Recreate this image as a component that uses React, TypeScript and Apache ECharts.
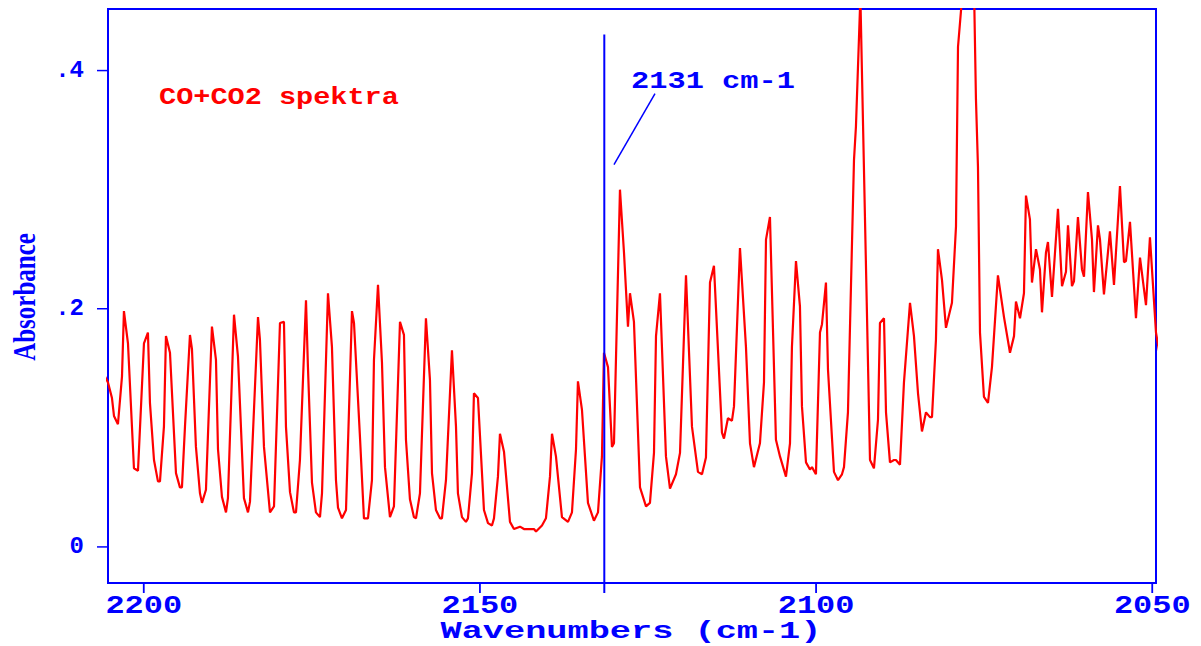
import React, { useEffect, useRef } from "react";
import * as echarts from "echarts";

// Spectrum (wavenumber in cm-1, absorbance)
const WAVENUMBERS = [
  2205.92, 2205.32, 2204.73, 2204.43, 2203.84, 2203.24, 2202.95, 2202.35, 2201.46, 2200.86,
  2199.97, 2199.38, 2199.08, 2198.48, 2197.89, 2197.59, 2197.0, 2196.7, 2196.1, 2195.21,
  2194.62, 2194.32, 2193.87, 2193.13, 2192.83, 2192.24, 2191.64, 2191.34, 2190.75, 2189.86,
  2189.26, 2188.96, 2188.37, 2187.77, 2187.48, 2186.58, 2185.99, 2185.1, 2184.5, 2184.2,
  2183.01, 2182.72, 2182.12, 2181.23, 2180.63, 2179.74, 2179.15, 2178.85, 2178.25, 2177.66,
  2177.36, 2176.77, 2175.87, 2175.58, 2174.98, 2174.39, 2173.79, 2173.49, 2172.6, 2172.01,
  2171.41, 2171.11, 2170.52, 2169.92, 2169.03, 2168.73, 2167.84, 2167.25, 2166.65, 2166.06,
  2165.76, 2165.16, 2164.57, 2164.12, 2163.38, 2162.79, 2161.89, 2161.3, 2161.0, 2160.41,
  2159.81, 2159.51, 2158.92, 2158.03, 2157.43, 2157.13, 2156.54, 2155.94, 2155.65, 2155.05,
  2154.16, 2153.56, 2153.27, 2152.67, 2152.08, 2151.78, 2151.18, 2150.89, 2150.29, 2149.4,
  2148.8, 2148.21, 2147.91, 2147.32, 2147.02, 2146.42, 2145.53, 2144.94, 2144.04, 2143.45,
  2141.96, 2141.66, 2140.77, 2140.18, 2139.58, 2139.28, 2138.69, 2137.8, 2136.9, 2136.31,
  2135.71, 2135.42, 2134.82, 2133.93, 2133.04, 2132.44, 2131.85, 2131.55, 2130.95, 2130.36,
  2130.06, 2129.17, 2128.57, 2127.98, 2127.68, 2127.09, 2126.19, 2125.3, 2124.71, 2124.11,
  2123.81, 2123.22, 2122.33, 2121.73, 2120.84, 2120.24, 2119.35, 2118.46, 2117.57, 2116.97,
  2116.38, 2115.78, 2115.19, 2114.0, 2113.7, 2113.11, 2112.51, 2112.21, 2111.32, 2110.43,
  2109.83, 2109.24, 2108.35, 2107.75, 2107.45, 2106.86, 2105.97, 2105.37, 2104.48, 2103.88,
  2103.59, 2102.99, 2102.4, 2102.1, 2101.5, 2100.91, 2100.61, 2100.02, 2099.42, 2099.12,
  2098.53, 2098.23, 2097.34, 2096.74, 2096.15, 2095.85, 2095.26, 2094.36, 2094.07, 2093.41,
  2091.98, 2091.39, 2090.79, 2090.5, 2089.9, 2089.6, 2089.01, 2088.41, 2088.12, 2087.52,
  2086.93, 2086.03, 2085.44, 2084.84, 2084.25, 2083.65, 2083.06, 2082.76, 2082.17, 2081.87,
  2081.27, 2080.68, 2079.79, 2079.19, 2078.89, 2078.3, 2077.7, 2077.11, 2076.51, 2076.22,
  2075.92, 2075.62, 2075.03, 2074.43, 2073.84, 2072.95, 2072.05, 2071.16, 2070.56, 2070.27,
  2069.67, 2069.08, 2068.78, 2068.19, 2067.89, 2067.29, 2066.7, 2066.4, 2065.81, 2065.51,
  2064.91, 2064.02, 2063.42, 2062.83, 2062.53, 2061.94, 2061.64, 2061.05, 2060.45, 2060.15,
  2059.56, 2058.96, 2058.67, 2058.07, 2057.77, 2057.18, 2056.29, 2055.69, 2054.8, 2054.2,
  2053.91, 2053.31, 2052.42, 2051.82, 2050.93, 2050.34, 2049.44, 2048.55,
];

const ABSORBANCE = [
  0.145, 0.138, 0.125, 0.11, 0.103, 0.143, 0.198, 0.171, 0.066, 0.064,
  0.171, 0.18, 0.121, 0.073, 0.055, 0.055, 0.101, 0.177, 0.163, 0.062,
  0.05, 0.05, 0.101, 0.178, 0.166, 0.084, 0.045, 0.037, 0.048, 0.185,
  0.157, 0.082, 0.042, 0.029, 0.041, 0.195, 0.16, 0.041, 0.029, 0.038,
  0.193, 0.174, 0.084, 0.029, 0.034, 0.188, 0.189, 0.101, 0.046, 0.029,
  0.029, 0.073, 0.207, 0.151, 0.054, 0.029, 0.025, 0.045, 0.213, 0.168,
  0.056, 0.033, 0.024, 0.031, 0.198, 0.188, 0.092, 0.024, 0.024, 0.056,
  0.157, 0.22, 0.155, 0.067, 0.025, 0.034, 0.189, 0.178, 0.09, 0.04,
  0.025, 0.024, 0.045, 0.192, 0.14, 0.062, 0.031, 0.024, 0.024, 0.056,
  0.165, 0.101, 0.045, 0.025, 0.021, 0.024, 0.062, 0.129, 0.125, 0.031,
  0.02, 0.018, 0.024, 0.059, 0.095, 0.08, 0.021, 0.015, 0.017, 0.015,
  0.015, 0.013, 0.018, 0.024, 0.059, 0.095, 0.076, 0.025, 0.021, 0.029,
  0.082, 0.139, 0.115, 0.037, 0.022, 0.029, 0.076, 0.163, 0.151, 0.084,
  0.087, 0.3, 0.247, 0.185, 0.213, 0.189, 0.05, 0.034, 0.037, 0.079,
  0.177, 0.213, 0.076, 0.049, 0.061, 0.079, 0.228, 0.101, 0.063, 0.061,
  0.075, 0.222, 0.236, 0.096, 0.091, 0.108, 0.106, 0.118, 0.251, 0.168,
  0.087, 0.067, 0.087, 0.138, 0.258, 0.277, 0.09, 0.076, 0.059, 0.087,
  0.168, 0.24, 0.202, 0.118, 0.071, 0.065, 0.067, 0.061, 0.18, 0.187,
  0.222, 0.149, 0.063, 0.056, 0.061, 0.067, 0.113, 0.325, 0.353, 0.462,
  0.073, 0.066, 0.107, 0.188, 0.192, 0.113, 0.071, 0.073, 0.073, 0.069,
  0.138, 0.205, 0.177, 0.129, 0.097, 0.113, 0.109, 0.109, 0.174, 0.25,
  0.224, 0.184, 0.205, 0.269, 0.42, 0.46, 0.485, 0.481, 0.47, 0.376,
  0.319, 0.18, 0.126, 0.121, 0.151, 0.228, 0.193, 0.163, 0.177, 0.206,
  0.192, 0.213, 0.295, 0.275, 0.222, 0.25, 0.233, 0.197, 0.247, 0.256,
  0.21, 0.284, 0.219, 0.231, 0.27, 0.219, 0.223, 0.277, 0.233, 0.227,
  0.298, 0.258, 0.214, 0.27, 0.258, 0.212, 0.265, 0.22, 0.303, 0.239,
  0.24, 0.273, 0.192, 0.243, 0.203, 0.26, 0.18, 0.15,
];

const X_TICKS = [2200, 2150, 2100, 2050];
const X_TICK_LABELS = ["2200", "2150", "2100", "2050"];
const Y_TICKS = [0, 0.2, 0.4];
const Y_TICK_LABELS = ["0", ".2", ".4"];

const X_MIN = 2049.44;
const X_MAX = 2205.32;
const Y_MIN = -0.0303;
const Y_MAX = 0.4517;

const MARKER_WN = 2131.5;
const MARKER_SPAN = [-0.0387, 0.4303];
const MARKER_LABEL = "2131 cm-1";
const LEADER_WN = [2130.06, 2123.96];
const LEADER_AB = [0.321, 0.3807];

const TITLE = "CO+CO2 spektra";
const X_NAME = "Wavenumbers (cm-1)";
const Y_NAME = "Absorbance";

const BLUE = "#0000ff";
const RED = "#ff0000";
const MONO = '"Liberation Mono", "DejaVu Sans Mono", monospace';
const SERIF = '"Liberation Serif", "DejaVu Serif", serif';

const GRID = { left: 108, right: 45, top: 9, bottom: 63 };

export default function App() {
  const ref = useRef<HTMLDivElement>(null);

  useEffect(() => {
    const el = ref.current;
    if (!el) return;
    const chart = echarts.init(el, null, { renderer: "svg" });

    const spectrum = WAVENUMBERS.map((w, i) => [w, ABSORBANCE[i]]);
    const marker = MARKER_SPAN.map((a) => [MARKER_WN, a]);
    const leader = LEADER_WN.map((w, i) => [w, LEADER_AB[i]]);

    chart.setOption({
      animation: false,
      backgroundColor: "#ffffff",
      grid: {
        ...GRID,
        show: true,
        borderColor: BLUE,
        borderWidth: 2,
        backgroundColor: "transparent",
      },
      xAxis: {
        type: "value",
        inverse: true,
        min: X_MIN,
        max: X_MAX,
        axisLine: { show: true, onZero: false, lineStyle: { color: BLUE, width: 2 } },
        axisTick: { show: false },
        axisLabel: { show: false },
        splitLine: { show: false },
      },
      yAxis: {
        type: "value",
        min: Y_MIN,
        max: Y_MAX,
        axisLine: { show: true, onZero: false, lineStyle: { color: BLUE, width: 2 } },
        axisTick: { show: false },
        axisLabel: { show: false },
        splitLine: { show: false },
      },
      series: [
        {
          type: "line",
          data: spectrum,
          symbol: "none",
          silent: true,
          clip: true,
          lineStyle: { color: RED, width: 2.2 },
          z: 3,
        },
        {
          type: "line",
          data: marker,
          symbol: "none",
          silent: true,
          clip: false,
          lineStyle: { color: BLUE, width: 2 },
          z: 4,
        },
        {
          type: "line",
          data: leader,
          symbol: "none",
          silent: true,
          clip: false,
          lineStyle: { color: BLUE, width: 1.5 },
          z: 4,
        },
        {
          // x-axis tick marks, drawn through the axis scale
          type: "custom",
          silent: true,
          clip: false,
          z: 10,
          data: X_TICKS.map((v) => [v, Y_MIN]),
          renderItem: (params: any, api: any) => {
            const p = api.coord([api.value(0), api.value(1)]);
            return {
              type: "rect",
              shape: { x: p[0] - 0.9, y: p[1], width: 1.8, height: 10 },
              style: { fill: BLUE },
            };
          },
        },
      ],
    });

    const texts: any[] = [];
    const ticks: any[] = [];
    const leftX = chart.convertToPixel({ xAxisIndex: 0 }, X_MAX) as number;
    X_TICKS.forEach((v, i) => {
      const px = chart.convertToPixel({ xAxisIndex: 0 }, v) as number;
      texts.push({
        type: "text",
        x: px,
        y: 606,
        scaleX: 1.23,
        silent: true,
        style: {
          text: X_TICK_LABELS[i],
          fill: BLUE,
          fontFamily: MONO,
          fontWeight: "bold",
          fontSize: 26,
          textAlign: "center",
          verticalAlign: "middle",
          textVerticalAlign: "middle",
        },
      });
    });
    Y_TICKS.forEach((v, i) => {
      const py = chart.convertToPixel({ yAxisIndex: 0 }, v) as number;
      ticks.push({
        type: "rect",
        silent: true,
        z: 100,
        shape: { x: leftX - 11, y: py - 0.75, width: 11, height: 1.5 },
        style: { fill: BLUE },
      });
      texts.push({
        type: "text",
        x: 84,
        y: py,
        silent: true,
        style: {
          text: Y_TICK_LABELS[i],
          fill: BLUE,
          fontFamily: MONO,
          fontWeight: "bold",
          fontSize: 24,
          textAlign: "right",
          verticalAlign: "middle",
          textVerticalAlign: "middle",
        },
      });
    });
    texts.push({
      type: "text",
      x: 631,
      y: 82,
      scaleX: 1.32,
      silent: true,
      style: {
        text: MARKER_LABEL,
        fill: BLUE,
        fontFamily: MONO,
        fontWeight: "bold",
        fontSize: 23,
        textAlign: "left",
        verticalAlign: "middle",
        textVerticalAlign: "middle",
      },
    });
    texts.push({
      type: "text",
      x: 159,
      y: 98,
      scaleX: 1.19,
      silent: true,
      style: {
        text: TITLE,
        fill: RED,
        fontFamily: MONO,
        fontWeight: "bold",
        fontSize: 24,
        textAlign: "left",
        verticalAlign: "middle",
        textVerticalAlign: "middle",
      },
    });
    texts.push({
      type: "text",
      x: 631,
      y: 632,
      scaleX: 1.47,
      silent: true,
      style: {
        text: X_NAME,
        fill: BLUE,
        fontFamily: MONO,
        fontWeight: "bold",
        fontSize: 24,
        textAlign: "center",
        verticalAlign: "middle",
        textVerticalAlign: "middle",
      },
    });
    texts.push({
      type: "text",
      x: 24,
      y: 297,
      rotation: Math.PI / 2,
      scaleY: 1.3,
      silent: true,
      style: {
        text: Y_NAME,
        fill: BLUE,
        fontFamily: SERIF,
        fontWeight: "bold",
        fontSize: 25,
        textAlign: "center",
        verticalAlign: "middle",
        textVerticalAlign: "middle",
      },
    });
    chart.setOption({ graphic: [...texts, ...ticks] });

    return () => chart.dispose();
  }, []);

  return (
    <div
      ref={ref}
      style={{ position: "fixed", left: 0, top: 0, width: 1201, height: 646 }}
    />
  );
}
